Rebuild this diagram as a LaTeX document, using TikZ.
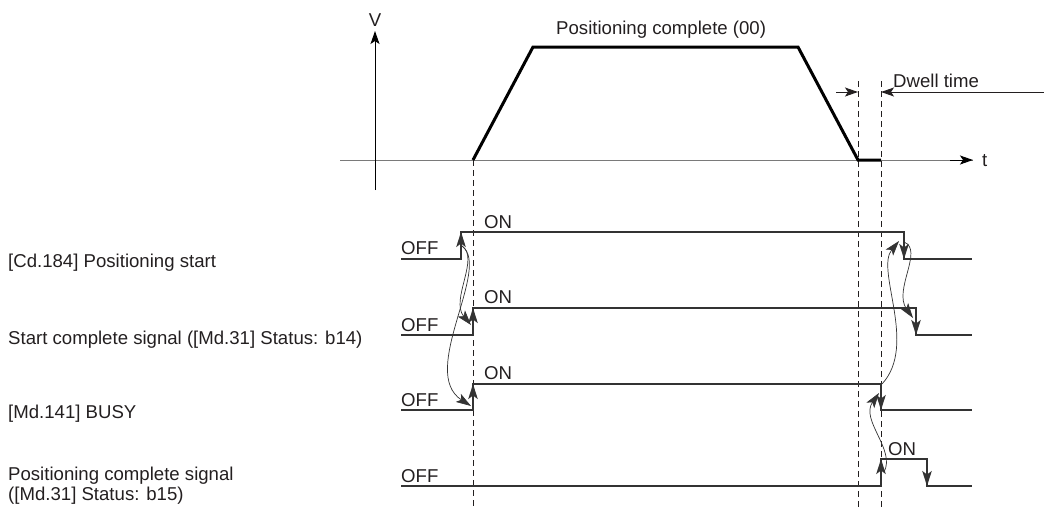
\documentclass[tikz,border=0pt]{standalone}
\usepackage{fontspec}
\setmainfont{Liberation Sans}
\usetikzlibrary{arrows.meta,calc}
\definecolor{ink}{HTML}{231F20}
\definecolor{sigc}{HTML}{333333}
\definecolor{axc}{HTML}{7A7A7A}
\begin{document}
\begin{tikzpicture}[x=1pt,y=-1pt,
  txt/.style={inner sep=0pt, anchor=base west, font=\fontsize{18.6}{20.7}\selectfont, text=ink},
  sig/.style={line width=1.5pt, draw=sigc, line join=miter},
  arrtip/.style={-{Stealth[length=13pt,width=9pt,inset=3pt]}},
  edgetip/.style={-{Stealth[length=15pt,width=9.5pt,inset=3.5pt]}},
  edgearr/.style={line width=1.5pt, draw=sigc, edgetip},
  cause/.style={line width=0.7pt, draw=sigc, edgetip},
  dashln/.style={line width=1pt, draw=ink, dash pattern=on 6pt off 4pt},
  prof/.style={line width=3pt, draw=black, line join=miter},
  ]
\useasboundingbox (0,0) rectangle (1044,509);

% ---------- axes ----------
\coordinate (vb) at (375,190);
\coordinate (vt) at (375,31);
\coordinate (tl) at (340,160);
\coordinate (tm) at (950,160);
\coordinate (tr) at (973,160);
\draw[line width=1pt, draw=axc] (tl) -- (tr);
\draw[line width=1pt, draw=black, arrtip] (tm) -- (tr);
\draw[line width=1pt, draw=black, arrtip] (vb) -- (vt);
\node[txt, anchor=base] (vlab) at (375,26) {V};
\node[txt] (tlab) at (982,166) {t};

% ---------- dashed time markers ----------
\coordinate (d1t) at (473,160);
\coordinate (d1b) at (473,509);
\coordinate (d2t) at (858,81);
\coordinate (d2b) at (858,509);
\coordinate (d3t) at (881,81);
\coordinate (d3b) at (881,509);
\draw[dashln] (d1t) -- (d1b);
\draw[dashln] (d2t) -- (d2b);
\draw[dashln] (d3t) -- (d3b);

% ---------- speed profile ----------
\coordinate (p0) at (473,160);
\coordinate (p1) at (533,47);
\coordinate (p2) at (798,47);
\coordinate (p3) at (858,160);
\coordinate (p4) at (881,160);
\draw[prof] (p0) -- (p1) -- (p2) -- (p3) -- (p4);
\node[txt] (pclab) at (556,34) {Positioning complete (00)};

% ---------- dwell time ----------
\coordinate (dwl) at (836,92);
\coordinate (dwa) at (858,92);
\coordinate (dwb) at (881,92);
\coordinate (dwr) at (1044,92);
\draw[line width=1pt, draw=ink, arrtip] (dwl) -- (dwa);
\draw[line width=1pt, draw=ink, arrtip] (dwr) -- (dwb);
\node[txt] (dwlab) at (893,87) {Dwell time};

% ---------- left labels ----------
\node[txt] (l1) at (8,267) {[Cd.184] Positioning start};
\node[txt] (l2) at (8,344) {Start complete signal ([Md.31] Status: b14)};
\node[txt] (l3) at (8,418) {[Md.141] BUSY};
\node[txt, align=left, anchor=north west] (l4) at (8,466.5) {Positioning complete signal\\([Md.31] Status: b15)};

% ---------- signals ----------
% row 1
\coordinate (a0) at (401,259); \coordinate (a1) at (461,259); \coordinate (a2) at (461,232);
\coordinate (a3) at (904,232); \coordinate (a4) at (904,259); \coordinate (a5) at (972,259);
\draw[sig] (a0) -- (a1) -- (a2) -- (a3) -- (a4) -- (a5);
\draw[edgearr] (a1) -- (a2);
\draw[edgearr] (a3) -- (a4);
\node[txt] (off1) at (401,254) {OFF};
\node[txt] (on1) at (484,228) {ON};
% row 2
\coordinate (b0) at (401,335); \coordinate (b1) at (473,335); \coordinate (b2) at (473,308);
\coordinate (b3) at (916,308); \coordinate (b4) at (916,335); \coordinate (b5) at (972,335);
\draw[sig] (b0) -- (b1) -- (b2) -- (b3) -- (b4) -- (b5);
\draw[edgearr] (b1) -- (b2);
\draw[edgearr] (b3) -- (b4);
\node[txt] (off2) at (401,331) {OFF};
\node[txt] (on2) at (484,303) {ON};
% row 3
\coordinate (c0) at (401,410); \coordinate (c1) at (473,410); \coordinate (c2) at (473,384);
\coordinate (c3) at (881,384); \coordinate (c4) at (881,410); \coordinate (c5) at (972,410);
\draw[sig] (c0) -- (c1) -- (c2) -- (c3) -- (c4) -- (c5);
\draw[edgearr] (c1) -- (c2);
\draw[edgearr] (c3) -- (c4);
\node[txt] (off3) at (401,406) {OFF};
\node[txt] (on3) at (484,379) {ON};
% row 4
\coordinate (e0) at (401,486); \coordinate (e1) at (881,486); \coordinate (e2) at (881,459);
\coordinate (e3) at (927,459); \coordinate (e4) at (927,486); \coordinate (e5) at (972,486);
\draw[sig] (e0) -- (e1) -- (e2) -- (e3) -- (e4) -- (e5);
\draw[edgearr] (e1) -- (e2);
\draw[edgearr] (e3) -- (e4);
\node[txt] (off4) at (401,482) {OFF};
\node[txt] (on4) at (888,455) {ON};

% ---------- cause/effect curves ----------
\coordinate (s1) at (462,246);
\coordinate (t2r) at (471,325);
\coordinate (t3r) at (471,406);
\draw[cause] (s1) .. controls (480,258) and (450,300) .. (t2r);
\draw[cause] (s1) .. controls (492,268) and (418,372) .. (t3r);
\coordinate (s1f) at (904,242);
\coordinate (t2f) at (913,318);
\draw[cause] (s1f) .. controls (924,250) and (893,290) .. (t2f);
\coordinate (s3f) at (882,384);
\coordinate (t1f) at (899,241);
\draw[cause] (s3f) .. controls (918,345) and (875,270) .. (t1f);
\coordinate (s4r) at (884,472);
\coordinate (t3f) at (879,393);
\draw[cause] (s4r) .. controls (896,450) and (860,420) .. (t3f);
\end{tikzpicture}
\end{document}
